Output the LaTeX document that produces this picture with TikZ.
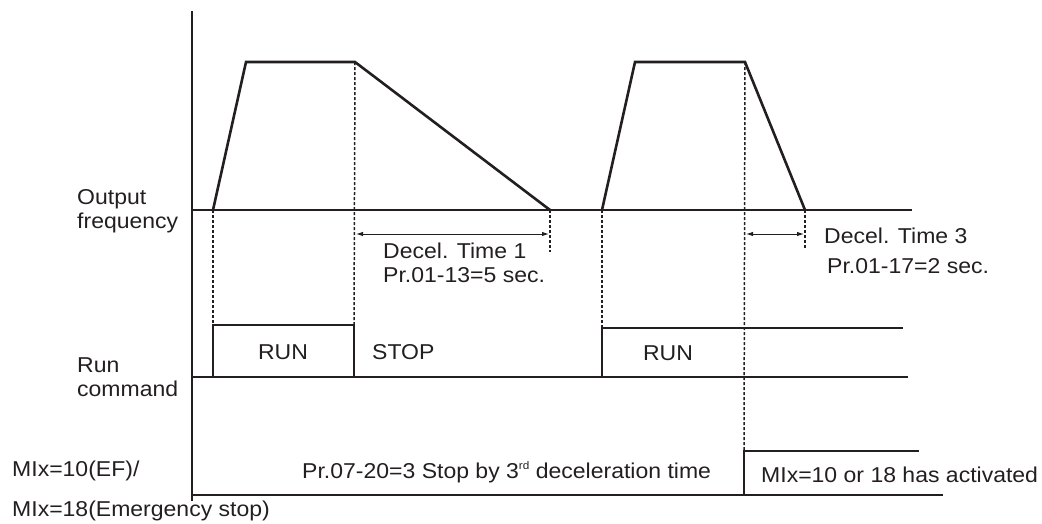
\documentclass[tikz,border=0pt]{standalone}
\usepackage{fontspec}
\setmainfont{Liberation Sans}[FakeStretch=1.07]
\usetikzlibrary{arrows.meta}
\definecolor{ink}{HTML}{231F20}
\begin{document}
\begin{tikzpicture}[x=1pt,y=-1pt,
  sig/.style={line width=2.6pt,color=ink,line join=miter},
  axis/.style={line width=2pt,color=ink},
  guide/.style={line width=1.5pt,color=ink,dash pattern=on 3pt off 2pt},
  dim/.style={line width=1pt,color=ink,{Latex[length=7pt,width=4.5pt]}-{Latex[length=7pt,width=4.5pt]}},
  lbl/.style={anchor=base west,inner sep=0pt,text=ink,font=\fontsize{21.5}{26}\selectfont},
  lblc/.style={anchor=base,inner sep=0pt,text=ink,font=\fontsize{21.5}{26}\selectfont}]
\useasboundingbox (0,0) rectangle (1042,523);
% axis
\coordinate (axT) at (192,11);
\coordinate (axB) at (192,501);
\draw[axis] (axT) -- (axB);
% output frequency
\coordinate (f0) at (192,210);
\coordinate (f1) at (213,210);
\coordinate (f2) at (246,62);
\coordinate (f3) at (355,62);
\coordinate (f4) at (550,210);
\coordinate (f5) at (602,210);
\coordinate (f6) at (635,62);
\coordinate (f7) at (745,62);
\coordinate (f8) at (805,210);
\coordinate (f9) at (912,210);
\draw[sig] (f0) -- (f9);
\draw[sig] (f1) -- (f2) -- (f3) -- (f4);
\draw[sig] (f5) -- (f6) -- (f7) -- (f8);
% run command
\coordinate (r0) at (192,377);
\coordinate (r1) at (213,377);
\coordinate (r2) at (213,325);
\coordinate (r3) at (354,325);
\coordinate (r4) at (354,377);
\coordinate (r5) at (908,377);
\coordinate (r6) at (602,377);
\coordinate (r7) at (602,328);
\coordinate (r8) at (903,328);
\draw[sig] (r0) -- (r5);
\draw[sig] (r1) -- (r2) -- (r3) -- (r4);
\draw[sig] (r6) -- (r7) -- (r8);
% MI
\coordinate (m0) at (192,495);
\coordinate (m1) at (943,495);
\coordinate (m2) at (744,495);
\coordinate (m3) at (744,451);
\coordinate (m4) at (919,451);
\draw[sig] (m0) -- (m1);
\draw[sig] (m2) -- (m3) -- (m4);
% guides
\coordinate (g4) at (550,252);
\coordinate (g8) at (805,248);
\draw[guide] (f1) -- (r2);
\draw[guide] (f3) -- (r3);
\draw[guide] (f4) -- (g4);
\draw[guide] (f5) -- (r7);
\draw[guide] (f7) -- (m3);
\draw[guide] (f8) -- (g8);
% dimension arrows
\coordinate (d1a) at (356,234);
\coordinate (d1b) at (549,234);
\coordinate (d3a) at (746,234);
\coordinate (d3b) at (804,234);
\draw[dim] (d1a) -- (d1b);
\draw[dim] (d3a) -- (d3b);
% labels
\node[lbl] (tout) at (77,204) {Output};
\node[lbl] (tfreq) at (77,228) {frequency};
\node[lbl] (trun) at (77,372) {Run};
\node[lbl] (tcmd) at (77,396) {command};
\node[lbl] (tmi1) at (12,476) {MIx=10(EF)/};
\node[lbl] (tmi2) at (12,516) {MIx=18(Emergency stop)};
\node[lblc] (run1) at (283,359) {RUN};
\node[lbl] (stop) at (372,359) {STOP};
\node[lblc] (run2) at (668,360) {RUN};
\node[lbl] (dt1) at (383,258) {Decel. Time 1};
\node[lbl] (pr13) at (383,282) {Pr.01-13=5 sec.};
\node[lbl] (dt3) at (824,243) {Decel. Time 3};
\node[lbl] (pr17) at (827,273) {Pr.01-17=2 sec.};
\node[lbl] (pr0720) at (302,478) {Pr.07-20=3 Stop by 3\raisebox{9pt}{\fontsize{11}{11}\selectfont rd} deceleration time};
\node[lbl] (miact) at (761,482) {MIx=10 or 18 has activated};
\end{tikzpicture}
\end{document}
